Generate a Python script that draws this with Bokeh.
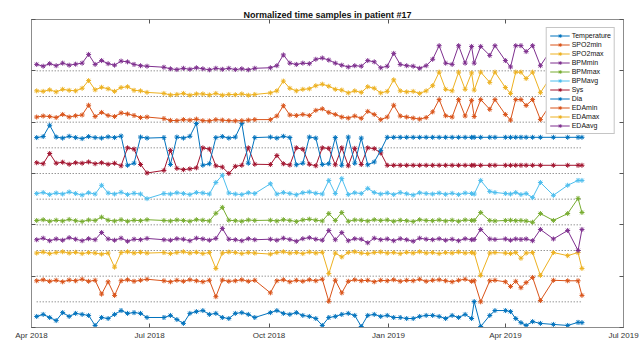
import pandas as pd
from bokeh.plotting import figure
from bokeh.models import (Range1d, FixedTicker, DatetimeAxis, LinearAxis,
                          DatetimeTickFormatter, Legend, LegendItem,
                          CustomJSTickFormatter)
from bokeh.embed import file_html
from bokeh.resources import INLINE

# ---------------- data ----------------
dates = [
    "2018-04-05", "2018-04-10", "2018-04-15", "2018-04-20", "2018-04-25", "2018-04-30",
    "2018-05-05", "2018-05-10", "2018-05-15", "2018-05-20", "2018-05-25", "2018-05-30",
    "2018-06-04", "2018-06-09", "2018-06-14", "2018-06-19", "2018-06-24", "2018-06-29",
    "2018-07-12", "2018-07-17", "2018-07-22", "2018-07-27", "2018-08-01", "2018-08-06",
    "2018-08-11", "2018-08-16", "2018-08-21", "2018-08-26", "2018-08-31", "2018-09-05",
    "2018-09-10", "2018-09-15", "2018-09-20", "2018-10-02", "2018-10-07", "2018-10-12",
    "2018-10-17", "2018-10-22", "2018-10-27", "2018-11-01", "2018-11-06", "2018-11-11",
    "2018-11-16", "2018-11-21", "2018-11-26", "2018-12-01", "2018-12-06", "2018-12-11",
    "2018-12-16", "2018-12-21", "2018-12-26", "2018-12-31", "2019-01-05", "2019-01-10",
    "2019-01-15", "2019-01-20", "2019-01-25", "2019-01-30", "2019-02-04", "2019-02-09",
    "2019-02-14", "2019-02-19", "2019-02-24", "2019-03-01", "2019-03-06", "2019-03-08",
    "2019-03-13", "2019-03-20", "2019-03-24", "2019-04-01", "2019-04-05", "2019-04-09",
    "2019-04-13", "2019-04-17", "2019-04-22", "2019-04-28", "2019-05-08", "2019-05-19",
    "2019-05-27", "2019-05-30",
]

temperature = [0.43, 0.51, 0.39, 0.27, 0.58, 0.43, 0.55, 0.51, 0.47, 0.08,
               0.39, 0.35, 0.51, 0.66, 0.55, 0.58, 0.55, 0.39, 0.39, 0.47,
               0.31, 0.16, 0.55, 0.62, 0.66, 0.51, 0.55, 0.39, 0.35, 0.55,
               0.58, 0.51, 0.39, 0.58, 0.66, 0.55, 0.51, 0.58, 0.47, 0.43,
               0.35, 0.08, 0.39, 0.43, 0.51, 0.55, 0.47, 0.04, 0.47, 0.51,
               0.43, 0.47, 0.39, 0.39, 0.35, 0.35, 0.43, 0.47, 0.47, 0.43,
               0.35, 0.47, 0.39, 0.51, 0.35, 1.01, 0.04, 0.47, 0.66, 0.66,
               0.62, 0.35, 0.19, 0.08, 0.23, 0.16, 0.12, 0.08, 0.2, 0.19]

spo2min = [0.82, 0.86, 0.8, 0.84, 0.78, 0.85, 0.82, 0.88, 0.8, 0.84,
           0.3, 0.78, 0.25, 0.82, 0.86, 0.8, 0.84, 0.88, 0.82, 0.78,
           0.84, 0.8, 0.86, 0.82, 0.78, 0.84, 0.2, 0.85, 0.8, 0.82,
           0.86, 0.8, 0.84, 0.35, 0.82, 0.86, 0.78, 0.84, 0.8, 0.86,
           0.82, 0.88, 0.02, 0.84, 0.35, 0.8, 0.86, 0.82, 0.84, 0.78,
           0.84, 0.82, 0.86, 0.8, 0.84, 0.82, 0.88, 0.8, 0.84, 0.86,
           0.82, 0.78, 0.84, 0.88, 0.8, 0.82, 0.0, 0.82, 0.84, 0.78,
           0.6, 0.8, 0.55, 0.75, 0.95, 0.05, 0.84, 0.82, 0.82, 0.25]

spo2max = [0.9, 0.94, 0.88, 0.92, 0.95, 0.9, 0.93, 0.88, 0.92, 0.9,
           0.86, 0.9, 0.35, 0.92, 0.95, 0.9, 0.93, 0.9, 0.92, 0.88,
           0.92, 0.95, 0.9, 0.93, 0.88, 0.92, 0.3, 0.9, 0.94, 0.92,
           0.88, 0.92, 0.9, 0.86, 0.92, 0.95, 0.9, 0.92, 0.88, 0.94,
           0.9, 0.93, 0.1, 0.9, 0.75, 0.92, 0.95, 0.9, 0.88, 0.92,
           0.94, 0.9, 0.92, 0.88, 0.93, 0.9, 0.95, 0.9, 0.92, 0.88,
           0.92, 0.9, 0.94, 0.9, 0.92, 0.9, 0.03, 0.9, 0.92, 0.9,
           0.88, 0.92, 0.7, 0.9, 0.92, 0.03, 0.92, 0.8, 0.92, 0.3]

bpmmin = [0.42, 0.48, 0.38, 0.45, 0.4, 0.5, 0.44, 0.38, 0.46, 0.42,
          0.7, 0.45, 0.4, 0.48, 0.36, 0.44, 0.42, 0.47, 0.42, 0.4,
          0.46, 0.44, 0.38, 0.48, 0.45, 0.4, 0.47, 0.86, 0.44, 0.42,
          0.38, 0.46, 0.42, 0.44, 0.4, 0.48, 0.43, 0.36, 0.46, 0.5,
          0.44, 0.4, 0.78, 0.42, 0.7, 0.38, 0.46, 0.44, 0.3, 0.48,
          0.42, 0.45, 0.38, 0.46, 0.42, 0.36, 0.48, 0.44, 0.42, 0.46,
          0.4, 0.44, 0.38, 0.46, 0.42, 0.43, 0.82, 0.45, 0.43, 0.45,
          0.4, 0.45, 0.43, 0.45, 0.38, 0.82, 0.45, 0.78, 0.0, 0.82]

bpmmax = [0.17, 0.2, 0.14, 0.18, 0.15, 0.21, 0.16, 0.13, 0.19, 0.17,
          0.3, 0.18, 0.15, 0.2, 0.14, 0.18, 0.16, 0.2, 0.17, 0.15,
          0.19, 0.17, 0.14, 0.2, 0.18, 0.15, 0.45, 0.68, 0.18, 0.16,
          0.14, 0.19, 0.17, 0.18, 0.15, 0.2, 0.17, 0.13, 0.19, 0.22,
          0.18, 0.15, 0.44, 0.17, 0.48, 0.14, 0.19, 0.18, 0.15, 0.2,
          0.17, 0.19, 0.14, 0.18, 0.16, 0.13, 0.2, 0.17, 0.16, 0.19,
          0.15, 0.18, 0.14, 0.19, 0.17, 0.17, 0.48, 0.17, 0.15, 0.17,
          0.18, 0.16, 0.17, 0.15, 0.1, 0.44, 0.17, 0.44, 1.03, 0.48]

bpmavg = [0.22, 0.26, 0.18, 0.24, 0.2, 0.28, 0.22, 0.16, 0.25, 0.2,
          0.54, 0.24, 0.2, 0.27, 0.18, 0.23, 0.2, 0.02, 0.22, 0.2,
          0.25, 0.22, 0.18, 0.26, 0.24, 0.2, 0.65, 0.93, 0.24, 0.2,
          0.18, 0.25, 0.22, 0.6, 0.2, 0.26, 0.22, 0.17, 0.25, 0.28,
          0.23, 0.2, 0.73, 0.22, 0.8, 0.18, 0.25, 0.22, 0.42, 0.26,
          0.2, 0.24, 0.18, 0.26, 0.21, 0.16, 0.25, 0.22, 0.2, 0.24,
          0.19, 0.23, 0.18, 0.24, 0.22, 0.2, 0.73, 0.3, 0.26, 0.22,
          0.2, 0.26, 0.18, 0.22, 0.06, 0.65, 0.15, 0.54, 0.73, 0.73]

sys_ = [0.42, 0.38, 0.78, 0.4, 0.44, 0.36, 0.42, 0.4, 0.45, 0.38,
        0.42, 0.36, 0.4, 0.3, 1.0, 0.95, 0.35, 0.02, 0.12, 0.9,
        0.2, 0.15, 0.18, 0.22, 1.0, 0.95, 0.3, 0.25, 0.0, 0.28,
        0.32, 1.0, 0.36, 0.35, 0.7, 0.38, 0.33, 1.0, 0.95, 0.36,
        0.3, 1.0, 0.98, 0.34, 1.0, 0.3, 0.98, 0.35, 1.0, 0.97,
        0.8, 0.32, 0.32, 0.32, 0.32, 0.32, 0.32, 0.32, 0.32, 0.32,
        0.32, 0.32, 0.32, 0.32, 0.32, 0.32, 0.32, 0.32, 0.32, 0.32,
        0.32, 0.32, 0.32, 0.32, 0.32, 0.32, 0.32, 0.32, 0.32, 0.32]

dia = [0.4, 0.44, 0.88, 0.42, 0.38, 0.45, 0.4, 0.36, 0.44, 0.4,
       0.38, 0.43, 0.4, 0.46, -0.68, -0.6, 0.42, 0.38, 0.4, -0.65,
       0.42, 0.38, 0.45, 0.95, -0.68, -0.62, 0.4, 0.44, 0.38, 0.42,
       0.95, -0.6, 0.4, 0.42, 0.38, 0.45, 0.4, -0.66, -0.6, 0.42,
       0.38, -0.65, -0.62, 0.4, -0.68, 0.42, -0.6, 0.38, -0.66, -0.55,
       -0.1, 0.41, 0.41, 0.41, 0.41, 0.41, 0.41, 0.41, 0.41, 0.41,
       0.41, 0.41, 0.41, 0.41, 0.41, 0.41, 0.41, 0.41, 0.41, 0.41,
       0.41, 0.41, 0.41, 0.41, 0.41, 0.41, 0.41, 0.41, 0.41, 0.41]

edamin = [0.2, 0.24, 0.22, 0.18, 0.3, 0.2, 0.25, 0.28, 0.66, 0.22,
          0.38, 0.26, 0.22, 0.36, 0.32, 0.26, 0.18, 0.2, 0.14, 0.07,
          0.06, 0.1, 0.08, 0.12, 0.06, 0.05, 0.1, 0.08, 0.06, 0.05,
          0.06, 0.08, 0.1, 0.1, 0.24, 0.64, 0.28, 0.26, 0.3, 0.26,
          0.46, 0.52, 0.38, 0.3, 0.2, 0.16, 0.24, 0.15, 0.42, 0.3,
          0.1, 0.2, 0.66, 0.24, 0.2, 0.16, 0.12, 0.18, 0.4, 0.88,
          0.25, 0.2, 0.88, 0.24, 0.85, 0.22, 0.88, 0.5, 0.88, 0.3,
          0.08, 0.88, 0.88, 0.65, 0.88, 0.1, 0.86, 0.2, 0.88, 0.85]

edamax = [0.22, 0.2, 0.26, 0.18, 0.28, 0.24, 0.22, 0.32, 0.62, 0.26,
          0.36, 0.3, 0.2, 0.35, 0.38, 0.24, 0.22, 0.16, 0.12, 0.06,
          0.08, 0.12, 0.05, 0.1, 0.1, 0.06, 0.12, 0.05, 0.08, 0.07,
          0.1, 0.05, 0.08, 0.14, 0.22, 0.6, 0.32, 0.22, 0.28, 0.3,
          0.42, 0.48, 0.4, 0.28, 0.25, 0.14, 0.22, 0.16, 0.38, 0.32,
          0.14, 0.2, 0.65, 0.22, 0.18, 0.2, 0.12, 0.22, 0.42, 0.95,
          0.28, 0.22, 0.95, 0.28, 0.92, 0.25, 0.95, 0.55, 0.95, 0.35,
          0.12, 0.95, 0.95, 0.7, 0.95, 0.15, 0.92, 0.25, 0.95, 0.92]

edaavg = [0.25, 0.18, 0.28, 0.2, 0.3, 0.22, 0.26, 0.3, 0.64, 0.25,
          0.4, 0.28, 0.22, 0.38, 0.35, 0.25, 0.2, 0.18, 0.14, 0.08,
          0.05, 0.1, 0.06, 0.12, 0.08, 0.04, 0.1, 0.06, 0.1, 0.05,
          0.08, 0.04, 0.1, 0.12, 0.2, 0.62, 0.3, 0.25, 0.3, 0.28,
          0.45, 0.5, 0.42, 0.3, 0.22, 0.15, 0.2, 0.18, 0.4, 0.35,
          0.12, 0.18, 0.68, 0.25, 0.2, 0.18, 0.1, 0.2, 0.45, 0.98,
          0.3, 0.25, 0.98, 0.3, 0.95, 0.3, 0.95, 0.6, 0.98, 0.4,
          0.15, 0.98, 0.98, 0.75, 0.98, 0.2, 0.95, 0.3, 0.95, 0.95]

series_names = ["Temperature", "SPO2min", "SPO2max", "BPMmin", "BPMmax", "BPMavg",
                "Sys", "Dia", "EDAmin", "EDAmax", "EDAavg"]
series_values = [temperature, spo2min, spo2max, bpmmin, bpmmax, bpmavg,
                 sys_, dia, edamin, edamax, edaavg]
series_offsets = [0.0, 0.5, 1.0, 1.5, 2.0, 2.5, 3.0, 3.5, 4.0, 4.5, 5.0]
series_scale = 0.5

tick_dates = ["2018-04-01", "2018-07-01", "2018-10-01", "2019-01-01", "2019-04-01", "2019-07-01"]
y_ticks = [0, 1, 2, 3, 4, 5, 6]

colors = ["#0072BD", "#D95319", "#EDB120", "#7E2F8E", "#77AC30", "#4DBEEE",
          "#A2142F", "#0072BD", "#D95319", "#EDB120", "#7E2F8E"]

# ---------------- figure ----------------
x = pd.to_datetime(dates)
ticks_ms = [pd.Timestamp(d).value // 10**6 for d in tick_dates]

p = figure(width=644, height=344, x_axis_type="datetime",
           output_backend="svg", toolbar_location=None,
           x_range=Range1d(pd.Timestamp(tick_dates[0]), pd.Timestamp(tick_dates[-1])),
           y_range=Range1d(y_ticks[0], y_ticks[-1]),
           min_border_left=31, min_border_right=21, min_border_top=19, min_border_bottom=17)

p.title.text = "Normalized time samples in patient #17"
p.title.align = "center"
p.title.text_font = "Liberation Sans"
p.title.text_font_size = "9px"
p.title.text_font_style = "bold"
p.title.text_color = "#111111"
p.title.standoff = 0
p.title.offset = 0

p.xgrid.visible = False
p.ygrid.visible = False
p.outline_line_color = "#8c8c8c"
p.background_fill_color = "white"
p.border_fill_color = "white"

fmt = DatetimeTickFormatter(years="%b %Y", months="%b %Y", days="%b %Y",
                            hours="%b %Y", minutes="%b %Y", seconds="%b %Y",
                            milliseconds="%b %Y", microseconds="%b %Y")
blank = CustomJSTickFormatter(code="return ''")

xa = p.xaxis[0]
xa.ticker = FixedTicker(ticks=ticks_ms)
xa.formatter = fmt
xa.major_tick_in = 4
xa.major_tick_out = 0
xa.minor_tick_line_color = None
xa.axis_line_color = "#8c8c8c"
xa.major_tick_line_color = "#555555"
xa.major_label_text_font = "Liberation Sans"
xa.major_label_text_font_size = "8px"
xa.major_label_text_color = "#333333"
xa.major_label_standoff = 3

ya = p.yaxis[0]
ya.ticker = FixedTicker(ticks=y_ticks)
ya.formatter = blank
ya.major_tick_in = 4
ya.major_tick_out = 0
ya.minor_tick_line_color = None
ya.axis_line_color = "#8c8c8c"
ya.major_tick_line_color = "#555555"
ya.major_label_standoff = 0

top = DatetimeAxis(ticker=FixedTicker(ticks=ticks_ms), formatter=blank,
                   major_tick_in=4, major_tick_out=0, minor_tick_line_color=None,
                   axis_line_color="#8c8c8c", major_tick_line_color="#555555",
                   major_label_standoff=0)
p.add_layout(top, "above")
right = LinearAxis(ticker=FixedTicker(ticks=y_ticks), formatter=blank,
                   major_tick_in=4, major_tick_out=0, minor_tick_line_color=None,
                   axis_line_color="#8c8c8c", major_tick_line_color="#555555",
                   major_label_standoff=0)
p.add_layout(right, "right")

# dotted baselines
for off in series_offsets[1:]:
    p.segment(x0=[x[0]], y0=[off], x1=[x[-1]], y1=[off],
              line_color="#666666", line_dash="1 2", line_width=1)

items = []
for name, vals, off, col in zip(series_names, series_values, series_offsets, colors):
    y = [off + series_scale * v for v in vals]
    r1 = p.line(x, y, line_color=col, line_width=1)
    r2 = p.scatter(x, y, marker="asterisk", size=5, line_color=col, line_width=1)
    items.append(LegendItem(label=name, renderers=[r1, r2]))

legend = Legend(items=items, location="top_right")
legend.margin = 8
legend.padding = 3
legend.spacing = 0
legend.label_height = 9
legend.glyph_height = 9
legend.glyph_width = 20
legend.label_standoff = 2
legend.label_text_font = "Liberation Sans"
legend.label_text_font_size = "7px"
legend.label_text_color = "#111111"
legend.border_line_color = "#8c8c8c"
legend.background_fill_alpha = 1.0
p.add_layout(legend)

open("out.html", "w").write(file_html(p, INLINE))
